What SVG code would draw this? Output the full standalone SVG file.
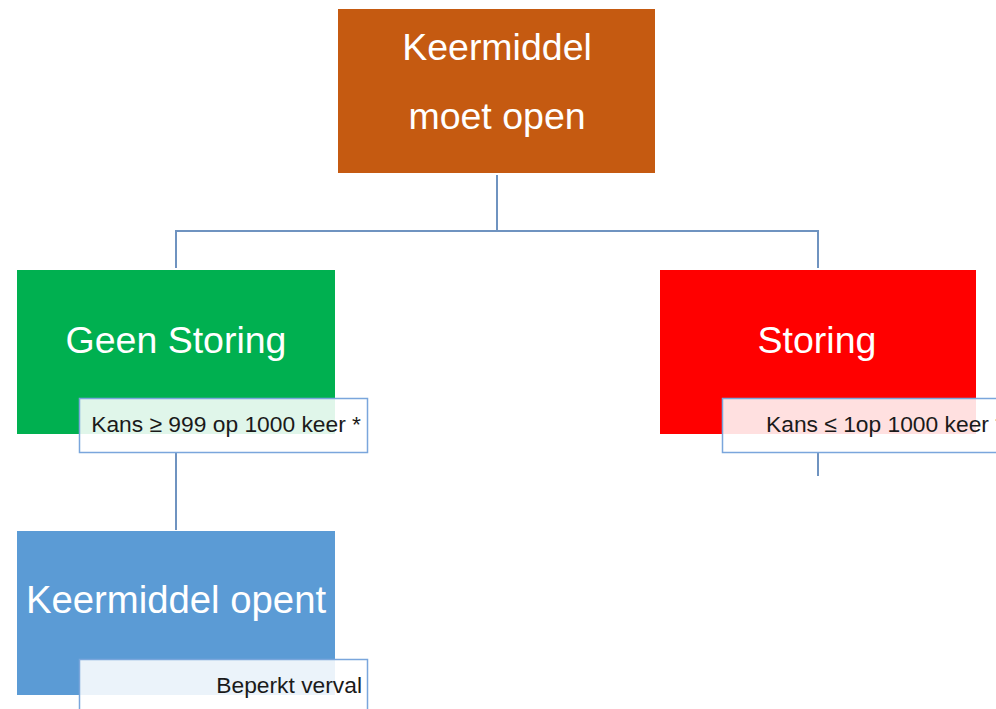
<svg xmlns="http://www.w3.org/2000/svg" width="996" height="709" viewBox="0 0 996 709">
<style>
.main{font-family:"Liberation Sans",Arial,sans-serif;font-size:37.5px;fill:#fff;text-anchor:middle}
.lbl{font-family:"Liberation Sans",Arial,sans-serif;font-size:22.8px;fill:#1a1a1a}
.lblbox{fill:#fff;fill-opacity:0.88;stroke:#7aa6dc;stroke-width:1.5}
.conn{fill:none;stroke:#6f93c0;stroke-width:2}
</style>
<rect width="996" height="709" fill="#fff"/>
<g id="connectors">
<path class="conn" d="M497 175 V231 M176 268 V231 H818 V268"/>
<path class="conn" d="M176 452 V530"/>
<path class="conn" d="M818 452 V476"/>
</g>
<g id="top">
<rect x="338" y="9" width="317" height="164" fill="#c55a11"/>
<text class="main" x="497" y="60">Keermiddel</text>
<text class="main" x="497" y="129">moet open</text>
</g>
<g id="geen-storing">
<rect x="17" y="270" width="318" height="164" fill="#00b050"/>
<text class="main" x="176" y="353">Geen Storing</text>
<rect class="lblbox" x="79.5" y="398.5" width="288" height="54"/>
<text class="lbl" x="361" y="432" text-anchor="end">Kans ≥ 999 op 1000 keer *</text>
</g>
<g id="storing">
<rect x="660" y="270" width="316" height="164" fill="#ff0000"/>
<text class="main" x="817" y="353">Storing</text>
<rect class="lblbox" x="722.5" y="398.5" width="290" height="54"/>
<text class="lbl" x="766" y="432">Kans ≤ 1op 1000 keer *</text>
</g>
<g id="keermiddel-opent">
<rect x="17" y="531" width="318" height="164" fill="#5b9bd5"/>
<text class="main" x="176" y="613" style="font-size:38.3px">Keermiddel opent</text>
<rect class="lblbox" x="79.5" y="659.5" width="288" height="60"/>
<text class="lbl" x="362" y="693" text-anchor="end">Beperkt verval</text>
</g>
</svg>
